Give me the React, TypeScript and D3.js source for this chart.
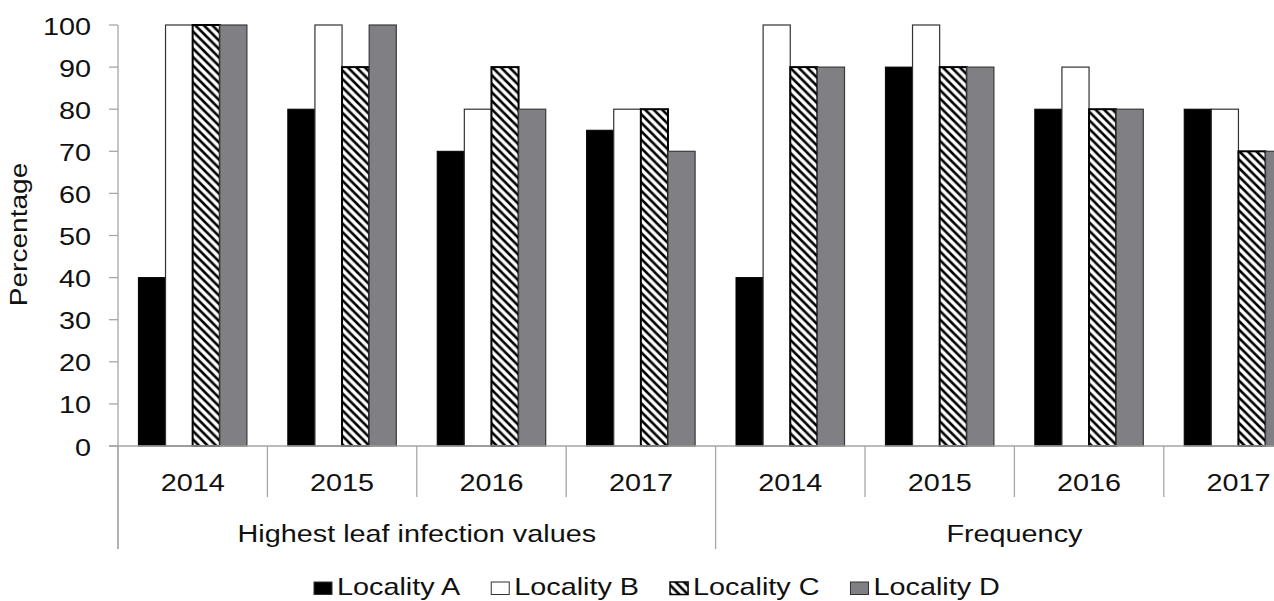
import React, { useEffect, useRef } from "react";
import * as d3 from "d3";

const years = ["2014", "2015", "2016", "2017"];
const groups = ["Highest leaf infection values", "Frequency"];
const seriesNames = ["Locality A", "Locality B", "Locality C", "Locality D"];
const localityA = [40, 80, 70, 75, 40, 90, 80, 80];
const localityB = [100, 100, 80, 80, 100, 100, 90, 80];
const localityC = [100, 90, 90, 80, 90, 90, 80, 70];
const localityD = [100, 100, 80, 70, 90, 90, 80, 70];
const yTickValues = [0, 10, 20, 30, 40, 50, 60, 70, 80, 90, 100];

const W = 1274;
const H = 601;
const FONT = "'Liberation Sans', Arial, sans-serif";
const FS = 24;
const SX = 1.2;

export default function App() {
  const ref = useRef<SVGSVGElement | null>(null);

  useEffect(() => {
    const svg = d3.select(ref.current);
    svg.selectAll("*").remove();

    const x0 = 118;
    const band = 149.4;
    const cats = groups.flatMap((g, gi) => years.map((y) => `${gi}-${y}`));
    const x = d3.scaleBand<string>().domain(cats).range([x0, x0 + band * cats.length]).padding(0);
    const inner = d3.scaleBand<string>().domain(seriesNames).range([20.4, 128.9]).padding(0);
    const y = d3.scaleLinear().domain([0, 100]).range([446, 25]);

    const defs = svg.append("defs");
    const pat = defs
      .append("pattern")
      .attr("id", "hatch")
      .attr("patternUnits", "userSpaceOnUse")
      .attr("width", 8.5)
      .attr("height", 8.5);
    pat.append("rect").attr("width", 8.5).attr("height", 8.5).attr("fill", "#fff");
    pat
      .append("path")
      .attr("d", "M-2,-2 L10.5,10.5 M-2,6.5 L2,10.5 M6.5,-2 L10.5,2")
      .attr("stroke", "#000")
      .attr("stroke-width", 2.6);

    svg.append("rect").attr("width", W).attr("height", H).attr("fill", "#fff");

    const data = [localityA, localityB, localityC, localityD];
    const fills = ["#000000", "#ffffff", "url(#hatch)", "#7f7f84"];
    const strokes = ["#000", "#333", "#000", "#3a3a3a"];
    const sw = [1, 1.2, 2, 1.2];

    const axisColor = "#a6a6a6";

    const addText = (
      g: d3.Selection<any, unknown, null, undefined>,
      tx: number,
      ty: number,
      txt: string,
      anchor: string,
      rot = 0
    ) =>
      g
        .append("text")
        .attr("transform", `translate(${tx},${ty})${rot ? ` rotate(${rot})` : ""} scale(${SX},1)`)
        .attr("text-anchor", anchor)
        .attr("font-family", FONT)
        .attr("font-size", FS)
        .attr("fill", "#111")
        .text(txt);

    // y ticks
    const gy = svg.append("g");
    gy.append("line").attr("x1", x0).attr("x2", x0).attr("y1", y(100)).attr("y2", 549).attr("stroke", axisColor).attr("stroke-width", 1.3);
    yTickValues.forEach((v) => {
      gy.append("line").attr("x1", x0 - 9).attr("x2", x0).attr("y1", y(v)).attr("y2", y(v)).attr("stroke", axisColor).attr("stroke-width", 1.3);
      addText(gy, 91, y(v) + 9.5, String(v), "end");
    });

    // bars
    data.forEach((vals, si) => {
      svg
        .append("g")
        .selectAll("rect")
        .data(vals)
        .join("rect")
        .attr("x", (_d, i) => (x(cats[i]) as number) + (inner(seriesNames[si]) as number))
        .attr("width", inner.bandwidth())
        .attr("y", (d) => y(d))
        .attr("height", (d) => y(0) - y(d))
        .attr("fill", fills[si])
        .attr("stroke", strokes[si])
        .attr("stroke-width", sw[si]);
    });

    // x axis line
    svg.append("line").attr("x1", x0 - 9).attr("x2", W).attr("y1", y(0)).attr("y2", y(0)).attr("stroke", axisColor).attr("stroke-width", 1.3);

    // category dividers and labels
    cats.forEach((c, i) => {
      const bx = x(c) as number;
      const isGroup = i % years.length === 0;
      svg.append("line").attr("x1", bx).attr("x2", bx).attr("y1", y(0)).attr("y2", isGroup ? 549 : 497).attr("stroke", axisColor).attr("stroke-width", 1.3);
      addText(svg as any, bx + x.bandwidth() / 2, 491, c.split("-")[1], "middle");
    });

    groups.forEach((g, gi) => {
      const gx = (x(cats[gi * years.length]) as number) + (x.bandwidth() * years.length) / 2;
      addText(svg as any, gx, 542, g, "middle");
    });

    // y title
    const yt = addText(svg as any, 26.5, 234.5, "Percentage", "middle", -90);
    yt.attr("transform", `translate(26.5,234.5) rotate(-90) scale(1.17,1)`);

    // legend
    const lg = svg.append("g");
    let cx = 314;
    seriesNames.forEach((s, si) => {
      lg.append("rect")
        .attr("x", cx)
        .attr("y", 582)
        .attr("width", 18)
        .attr("height", 12.5)
        .attr("fill", fills[si])
        .attr("stroke", si === 2 ? "#000" : "#333")
        .attr("stroke-width", si === 2 ? 1.5 : 1);
      const t = addText(lg, cx + 23, 594.5, s, "start");
      const tw = (t.node() as SVGTextElement).getComputedTextLength() * SX;
      cx = cx + 23 + tw + 31;
    });
  }, []);

  return (
    <svg
      ref={ref}
      width={W}
      height={H}
      style={{ position: "absolute", left: 0, top: 0, display: "block" }}
    />
  );
}
